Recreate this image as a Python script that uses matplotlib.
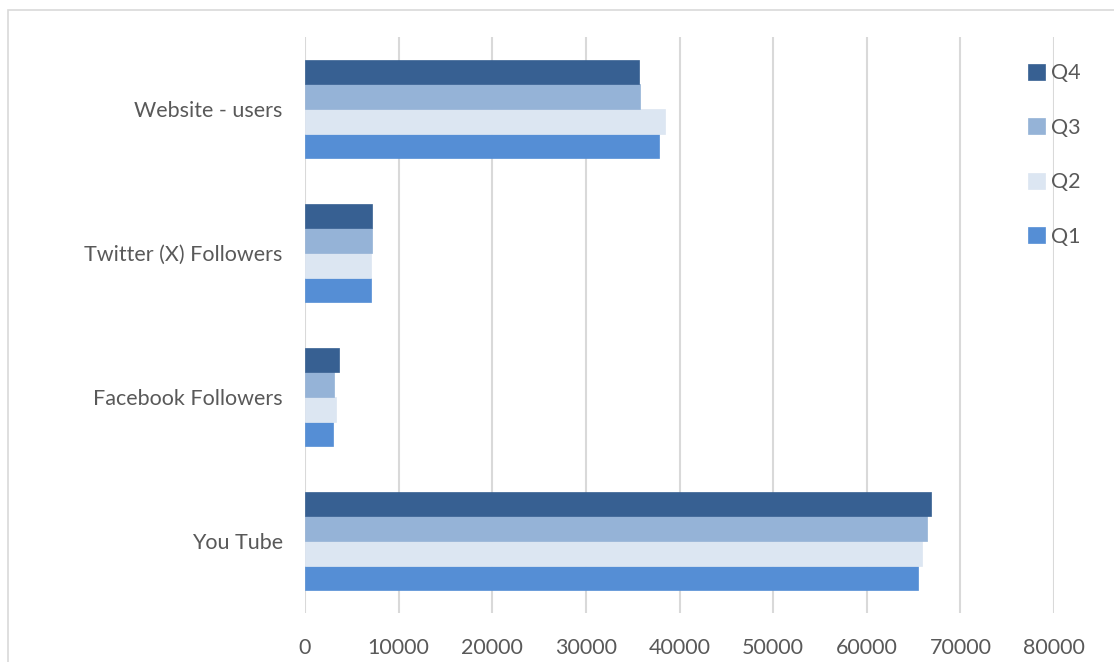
"""Quarterly social media / website reach, grouped horizontal bars.
Saves: out.png
"""
import numpy as np
import matplotlib.pyplot as plt
from matplotlib.patches import Rectangle

categories = ['You Tube', 'Facebook Followers', 'Twitter (X) Followers', 'Website - users']
q1 = [65480, 2990, 7100, 37820]
q2 = [65920, 3270, 7100, 38400]
q3 = [66450, 3130, 7120, 35830]
q4 = [66880, 3600, 7200, 35720]
series = ['Q1', 'Q2', 'Q3', 'Q4']
colors = ['#558ed5', '#dce6f2', '#95b3d7', '#376092']
xticks = list(range(0, 80001, 10000))

plt.rcParams['font.family'] = ['Lato', 'DejaVu Sans']
text_col = '#595959'

fig = plt.figure(figsize=(11.14, 6.62), dpi=100)
ax = fig.add_axes([305 / 1114, 49 / 662, 749 / 1114, 576 / 662])

# chart frame (top and left edges visible)
fig.add_artist(Rectangle((8 / 1114, -0.1), 1.2, (662 - 10) / 662 + 0.1,
                         transform=fig.transFigure, fill=False,
                         edgecolor='#d9d9d9', lw=1.2))

y = np.arange(len(categories))
h = 0.171
for i, (name, vals, c) in enumerate(zip(series, [q1, q2, q3, q4], colors)):
    ax.barh(y + (i - 1.5) * h, vals, height=h, color=c, label=name,
            edgecolor=c, linewidth=0.5, zorder=3)

ax.set_xlim(0, 80000)
ax.set_ylim(-0.5, 3.5)
ax.set_xticks(xticks)
ax.set_xticklabels([str(t) for t in xticks])
ax.set_yticks(y)
ax.set_yticklabels(categories)
ax.tick_params(axis='x', length=0, pad=18, labelsize=15.5, labelcolor=text_col)
ax.tick_params(axis='y', length=0, pad=16, labelsize=15.5, labelcolor=text_col)
ax.grid(axis='x', color='#d9d9d9', lw=1.5, zorder=0)
for s in ax.spines.values():
    s.set_visible(False)

handles, labels = ax.get_legend_handles_labels()
leg = ax.legend(handles[::-1], labels[::-1], loc='upper left',
                bbox_to_anchor=(1009 / 1114, 1 - 44 / 662), bbox_transform=fig.transFigure,
                frameon=False, fontsize=15.5, labelspacing=1.6, handlelength=0.75,
                handleheight=0.75, handletextpad=0.3, labelcolor=text_col)
leg.set_zorder(5)

fig.savefig('out.png', dpi=100)
plt.close(fig)
